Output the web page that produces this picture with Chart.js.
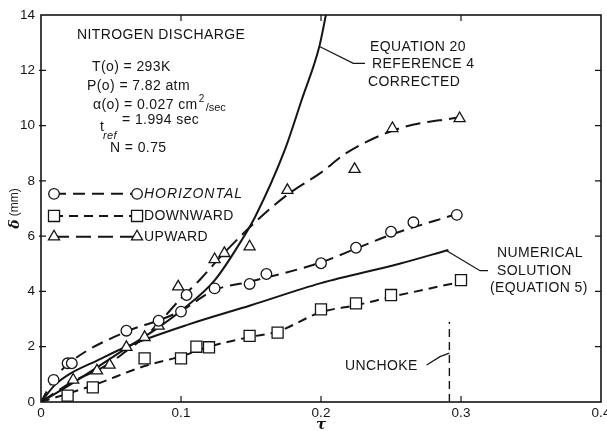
<!DOCTYPE html>
<html>
<head>
<meta charset="utf-8">
<script src="https://cdn.jsdelivr.net/npm/chart.js@4"></script>
<style>
  html, body { margin: 0; padding: 0; background: #fff; overflow: hidden; }
  #wrap { width: 607px; height: 431px; overflow: hidden; }
  canvas { display: block; }
</style>
</head>
<body>
<div id="wrap"><canvas id="chart" width="620" height="431" style="width:620px;height:431px"></canvas></div>
<script>
// axis ticks
const xTickValues = [0, 0.1, 0.2, 0.3, 0.4];
const xTickLabels = ["0", "0.1", "0.2", "0.3", "0.4"];
const yTickValues = [0, 2, 4, 6, 8, 10, 12, 14];
const yTickLabels = ["0", "2", "4", "6", "8", "10", "12", "14"];

// measured points
const horizTau   = [0.009, 0.019, 0.022, 0.061, 0.084, 0.100, 0.104, 0.124, 0.149, 0.161, 0.200, 0.225, 0.250, 0.266, 0.297];
const horizDelta = [0.80, 1.40, 1.40, 2.58, 2.94, 3.27, 3.87, 4.11, 4.27, 4.63, 5.02, 5.58, 6.16, 6.50, 6.77];

const downTau   = [0.019, 0.037, 0.074, 0.100, 0.111, 0.120, 0.149, 0.169, 0.200, 0.225, 0.250, 0.300];
const downDelta = [0.23, 0.53, 1.58, 1.58, 2.00, 1.98, 2.39, 2.51, 3.35, 3.57, 3.87, 4.41];

const upTau   = [0.023, 0.040, 0.049, 0.061, 0.074, 0.084, 0.098, 0.124, 0.131, 0.149, 0.176, 0.224, 0.251, 0.299];
const upDelta = [0.80, 1.13, 1.34, 1.98, 2.34, 2.75, 4.17, 5.16, 5.38, 5.62, 7.66, 8.42, 9.90, 10.26];

// faired curves through the points
const horizFitTau   = [0, 0.009, 0.020, 0.061, 0.084, 0.100, 0.124, 0.149, 0.200, 0.225, 0.250, 0.297];
const horizFitDelta = [0, 0.80, 1.40, 2.55, 2.95, 3.30, 4.05, 4.35, 5.05, 5.55, 6.05, 6.80];

const downFitTau   = [0, 0.019, 0.037, 0.074, 0.100, 0.120, 0.149, 0.169, 0.200, 0.225, 0.250, 0.300];
const downFitDelta = [0, 0.30, 0.60, 1.30, 1.65, 2.00, 2.35, 2.55, 3.25, 3.50, 3.80, 4.35];

const upFitTau   = [0, 0.023, 0.040, 0.049, 0.061, 0.074, 0.084, 0.100, 0.114, 0.130, 0.155, 0.176, 0.200, 0.218, 0.256, 0.299];
const upFitDelta = [0, 0.75, 1.15, 1.40, 1.85, 2.35, 2.85, 3.75, 4.45, 5.35, 6.60, 7.50, 8.30, 9.00, 9.90, 10.30];

// theory curves
const eq20Tau   = [0, 0.020, 0.061, 0.084, 0.100, 0.124, 0.1445, 0.153, 0.174, 0.186, 0.199, 0.2035];
const eq20Delta = [0, 0.60, 1.95, 2.70, 3.30, 4.40, 5.95, 6.70, 9.10, 10.90, 12.90, 14.0];

const numTau   = [0, 0.010, 0.020, 0.040, 0.061, 0.105, 0.150, 0.200, 0.256, 0.291];
const numDelta = [0, 0.62, 1.00, 1.50, 2.00, 2.80, 3.50, 4.30, 5.00, 5.50];

// unchoke marker
const unchokeTau   = [0.2917, 0.2917];
const unchokeDelta = [0, 2.9];

const INK = "#151515";
const SANS = '"Liberation Sans", Arial, sans-serif';
const SERIF = '"DejaVu Serif", serif';

const pts = (xs, ys) => xs.map((x, i) => ({ x: x, y: ys[i] }));

const markers = (label, xs, ys, style, r) => ({
  label: label,
  data: pts(xs, ys),
  showLine: false,
  pointStyle: style,
  pointRadius: r,
  pointHoverRadius: r,
  pointBackgroundColor: "#fff",
  pointBorderColor: INK,
  pointBorderWidth: 1.3,
  order: 0,
});

const curve = (label, xs, ys, dash, width) => ({
  label: label,
  data: pts(xs, ys),
  showLine: true,
  pointRadius: 0,
  borderColor: INK,
  borderWidth: width || 2,
  borderDash: dash,
  cubicInterpolationMode: "monotone",
  order: 1,
});

const dashH = [12, 7];
const dashD = [9, 6];
const dashU = [15, 7];

// text, leaders, frame, inward ticks
const frame = {
  id: "frame",
  afterDraw(chart) {
    const { ctx, chartArea: a, scales: { x, y } } = chart;
    const px = (t) => x.getPixelForValue(t);
    const py = (d) => y.getPixelForValue(d);

    ctx.save();
    ctx.strokeStyle = INK;
    ctx.fillStyle = INK;
    ctx.lineWidth = 1.6;
    ctx.strokeRect(a.left, a.top, a.right - a.left, a.bottom - a.top);

    ctx.lineWidth = 1.2;
    ctx.beginPath();
    xTickValues.slice(1, -1).forEach((v) => {
      ctx.moveTo(px(v), a.bottom); ctx.lineTo(px(v), a.bottom - 6);
      ctx.moveTo(px(v), a.top); ctx.lineTo(px(v), a.top + 6);
    });
    yTickValues.slice(1, -1).forEach((v) => {
      ctx.moveTo(a.left - 2, py(v)); ctx.lineTo(a.left + 5, py(v));
      ctx.moveTo(a.right, py(v)); ctx.lineTo(a.right - 6, py(v));
    });
    ctx.stroke();

    // leader lines
    const leader = (pairs) => {
      ctx.beginPath();
      pairs.forEach((p, i) => (i ? ctx.lineTo(px(p[0]), py(p[1])) : ctx.moveTo(px(p[0]), py(p[1]))));
      ctx.stroke();
    };
    ctx.lineWidth = 1.3;
    leader([[0.1993, 12.85], [0.2231, 12.25], [0.2314, 12.25]]);
    leader([[0.2898, 5.47], [0.3136, 4.75], [0.3193, 4.75]]);
    leader([[0.2755, 1.34], [0.2850, 1.64], [0.2917, 1.77]]);

    const text = (s, t, d, font, spacing) => {
      ctx.font = font || "14px " + SANS;
      ctx.letterSpacing = spacing || "0.4px";
      ctx.textAlign = "left";
      ctx.textBaseline = "middle";
      ctx.fillText(s, px(t), py(d));
      return ctx.measureText(s).width;
    };

    text("NITROGEN DISCHARGE", 0.0257, 13.28);
    text("T(o) = 293K", 0.0364, 12.12);
    text("P(o) = 7.82 atm", 0.0329, 11.43);
    // alpha line with superscript
    const aw = text("\u03b1(o) = 0.027 cm", 0.0371, 10.75);
    ctx.font = "10px " + SANS;
    ctx.letterSpacing = "0px";
    ctx.fillText("2", px(0.0371) + aw + 1, py(10.75) - 6);
    ctx.font = "11px " + SANS;
    ctx.fillText("/sec", px(0.0371) + aw + 8, py(10.75) + 3);
    // t_ref line
    text("t", 0.0421, 9.95);
    ctx.font = "italic 11px " + SANS;
    ctx.fillText("ref", px(0.0421) + 3, py(9.95) + 9);
    text("= 1.994 sec", 0.0579, 10.18);
    text("N = 0.75", 0.0493, 9.19);

    text("EQUATION 20", 0.235, 12.84);
    text("REFERENCE 4", 0.2364, 12.23);
    text("CORRECTED", 0.2336, 11.58);

    text("NUMERICAL", 0.3257, 5.39);
    text("SOLUTION", 0.3257, 4.75);
    text("(EQUATION 5)", 0.3207, 4.12);

    text("UNCHOKE", 0.2171, 1.31);

    // legend keys
    const key = (row, dash, style, r, label, italic) => {
      const x0 = px(0.0093), x1 = px(0.0686), yy = py(row);
      ctx.lineWidth = 2;
      ctx.setLineDash(dash);
      ctx.beginPath(); ctx.moveTo(x0, yy); ctx.lineTo(x1, yy); ctx.stroke();
      ctx.setLineDash([]);
      ctx.fillStyle = "#fff";
      ctx.lineWidth = 1.3;
      [x0, x1].forEach((xx) => {
        Chart.helpers.drawPoint(ctx, { pointStyle: style, radius: r, borderWidth: 1.3 }, xx, yy);
      });
      ctx.fillStyle = INK;
      text(label, 0.0735, row, (italic ? "italic " : "") + "14px " + SANS, italic ? "1px" : "0.4px");
    };
    key(7.53, dashH, "circle", 5.3, "HORIZONTAL", true);
    key(6.73, dashD, "rect", 7.8, "DOWNWARD", false);
    key(5.98, dashU, "triangle", 6.4, "UPWARD", false);

    // axis titles
    ctx.save();
    ctx.translate(15, (a.top + a.bottom) / 2);
    ctx.rotate(-Math.PI / 2);
    ctx.textAlign = "left";
    ctx.textBaseline = "middle";
    ctx.letterSpacing = "0px";
    ctx.font = "italic bold 14px " + SERIF;
    const dw = ctx.measureText("\u03b4").width;
    ctx.font = "12px " + SANS;
    const mw = ctx.measureText(" (mm)").width;
    const start = -(dw + mw) / 2;
    ctx.font = "italic bold 14px " + SERIF;
    ctx.fillText("\u03b4", start, 0);
    ctx.font = "12px " + SANS;
    ctx.fillText(" (mm)", start + dw, 0);
    ctx.restore();

    ctx.font = "italic bold 15px " + SERIF;
    ctx.letterSpacing = "0px";
    ctx.textAlign = "center";
    ctx.textBaseline = "middle";
    ctx.fillText("\u03c4", (a.left + a.right) / 2, 425);

    ctx.restore();
  },
};

new Chart(document.getElementById("chart"), {
  type: "scatter",
  data: {
    datasets: [
      markers("Horizontal", horizTau, horizDelta, "circle", 5.3),
      markers("Downward", downTau, downDelta, "rect", 7.8),
      markers("Upward", upTau, upDelta, "triangle", 6.4),
      curve("Horizontal fit", horizFitTau, horizFitDelta, dashH),
      curve("Downward fit", downFitTau, downFitDelta, dashD),
      curve("Upward fit", upFitTau, upFitDelta, dashU),
      curve("Equation 20", eq20Tau, eq20Delta, []),
      curve("Numerical solution", numTau, numDelta, []),
      Object.assign(curve("Unchoke", unchokeTau, unchokeDelta, [8, 5], 1.4), { cubicInterpolationMode: "default", tension: 0 }),
    ],
  },
  options: {
    responsive: false,
    animation: false,
    events: [],
    layout: { padding: { left: 0, right: 19, top: 15, bottom: 0 } },
    plugins: { legend: { display: false }, tooltip: { enabled: false } },
    scales: {
      x: {
        type: "linear",
        min: 0,
        max: 0.4,
        afterFit: (s) => { s.height = 29; },
        afterBuildTicks: (s) => { s.ticks = xTickValues.map((v) => ({ value: v })); },
        grid: { display: false, drawTicks: false },
        border: { display: false },
        ticks: {
          padding: 3,
          maxRotation: 0,
          color: INK,
          font: { family: SANS, size: 13.5 },
          callback: (v) => xTickLabels[xTickValues.findIndex((t) => Math.abs(t - v) < 1e-9)],
        },
      },
      y: {
        type: "linear",
        min: 0,
        max: 14,
        afterFit: (s) => { s.width = 41; },
        afterBuildTicks: (s) => { s.ticks = yTickValues.map((v) => ({ value: v })); },
        grid: { display: false, drawTicks: false },
        border: { display: false },
        ticks: {
          padding: 6,
          color: INK,
          font: { family: SANS, size: 13.5 },
          callback: (v) => yTickLabels[yTickValues.indexOf(v)],
        },
      },
    },
  },
  plugins: [frame],
});
</script>
</body>
</html>
